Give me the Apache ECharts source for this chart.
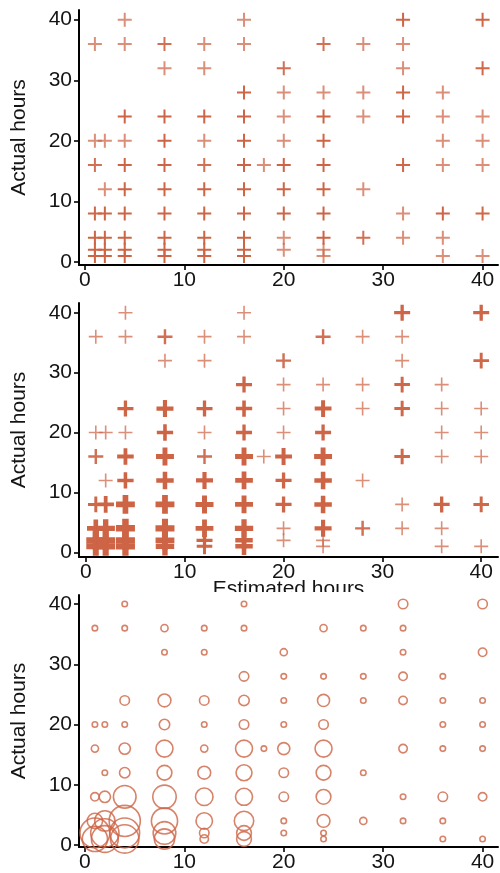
<!DOCTYPE html>
<html><head><meta charset="utf-8">
<script src="https://cdn.jsdelivr.net/npm/echarts@6/dist/echarts.min.js"></script>
<style>html,body{margin:0;padding:0;background:#fff}#c{width:500px;height:873px}</style>
</head><body><div id="c"></div>
<script>
// Estimated vs actual hours, with number of tasks at each combination
const estHours = [
  1,1,1,1,1,1,1,
  2,2,2,2,2,2,
  4,4,4,4,4,4,4,4,4,4,
  8,8,8,8,8,8,8,8,8,8,
  12,12,12,12,12,12,12,12,12,12,
  16,16,16,16,16,16,16,16,16,16,16,
  18,
  20,20,20,20,20,20,20,20,20,
  24,24,24,24,24,24,24,24,24,24,
  28,28,28,28,28,
  32,32,32,32,32,32,32,32,
  36,36,36,36,36,36,36,
  40,40,40,40,40,40,40
];
const actHours = [
  36,20,16,8,4,2,1,
  20,12,8,4,2,1,
  40,36,24,20,16,12,8,4,2,1,
  36,32,24,20,16,12,8,4,2,1,
  36,32,24,20,16,12,8,4,2,1,
  40,36,28,24,20,16,12,8,4,2,1,
  16,
  32,28,24,20,16,12,8,4,2,
  36,28,24,20,16,12,8,4,2,1,
  36,28,24,12,4,
  40,36,32,28,24,16,8,4,
  28,24,20,16,8,4,1,
  40,32,24,20,16,8,1
];
const counts = [
  1,1,2,3,12,50,35,
  1,1,6,22,45,40,
  1,1,4,1,6,5,28,55,50,45,
  2,1,8,5,15,11,30,38,28,22,
  1,1,4,1,2,8,16,14,4,3,
  1,1,4,5,4,15,13,15,20,11,11,
  1,
  2,1,1,1,7,4,4,1,1,
  2,1,7,4,15,11,11,8,1,1,
  1,1,1,1,2,
  4,1,1,3,3,3,1,1,
  1,1,1,1,4,1,1,
  4,3,1,1,1,3,1
];
const xTickValues = [0,10,20,30,40];
const yTickValues = [0,10,20,30,40];
const xTitle = 'Estimated hours';
const yTitle = 'Actual hours';

const COLOR = '#CD6445';
const FONT = '"Liberation Sans", Arial, sans-serif';
const FS = 21;
const TXT = '#141414';
const PLUS = 'path://M0,6L12,6M6,0L6,12';

const chart = echarts.init(document.getElementById('c'), null, {renderer:'canvas'});

const panels = [
  {top:10, height:255, xmin:-0.6, xmax:41.55, ymin:-0.5, ymax:41.6},
  {top:303, height:254, xmin:-0.7, xmax:41.7, ymin:-0.78, ymax:41.62},
  {top:595, height:253, xmin:-0.6, xmax:41.55, ymin:-0.33, ymax:41.5}
];

const grids = [], xAxes = [], yAxes = [];
panels.forEach((p, i) => {
  const z = i === 2 ? 5 : 0;
  grids.push({left:79, top:p.top, width:419, height:p.height, containLabel:false});
  xAxes.push({
    type:'value', gridIndex:i, min:p.xmin, max:p.xmax, z:z,
    axisLine:{show:true, onZero:false, lineStyle:{color:'#000', width:2}},
    axisTick:{show:true, length:5, customValues:xTickValues, lineStyle:{color:'#000', width:1.6}},
    axisLabel:{customValues:xTickValues, margin:5, fontSize:FS, color:TXT, fontFamily:FONT},
    splitLine:{show:false}
  });
  yAxes.push({
    type:'value', gridIndex:i, min:p.ymin, max:p.ymax, z:z,
    name:yTitle, nameLocation:'middle', nameGap:49,
    nameTextStyle:{fontSize:FS, color:TXT, fontFamily:FONT},
    axisLine:{show:true, onZero:false, lineStyle:{color:'#000', width:2}},
    axisTick:{show:true, length:5, customValues:yTickValues, lineStyle:{color:'#000', width:1.6}},
    axisLabel:{customValues:yTickValues, margin:7, fontSize:FS, color:TXT, fontFamily:FONT},
    splitLine:{show:false}
  });
});

const d1 = [], d2 = [], d3 = [];
estHours.forEach((x, i) => {
  const y = actHours[i], n = counts[i];
  d1.push({value:[x, y], itemStyle:{opacity: 1 - Math.pow(0.28, n)}});
  const lg = Math.log2(n);
  d2.push({value:[x, y], symbolSize: 14 + Math.min(lg, 5) * 1.0,
    itemStyle:{borderWidth: Math.min(1.6 + 0.85 * lg, 6.5), opacity: 1 - Math.pow(0.28, n)}});
  d3.push({value:[x, y, n], symbolSize: 1.5 + 4.0 * Math.sqrt(n)});
});

const option = {
  animation:false,
  backgroundColor:'#fff',
  grid:grids, xAxis:xAxes, yAxis:yAxes,
  series:[
    {type:'scatter', xAxisIndex:0, yAxisIndex:0, silent:true, symbol:PLUS, symbolSize:14,
     itemStyle:{color:'none', borderColor:COLOR, borderWidth:2}, data:d1},
    {type:'scatter', xAxisIndex:1, yAxisIndex:1, silent:true, symbol:PLUS,
     itemStyle:{color:'none', borderColor:COLOR, borderWidth:2}, data:d2},
    {type:'scatter', xAxisIndex:2, yAxisIndex:2, silent:true, symbol:'circle', z:5,
     itemStyle:{color:'rgba(0,0,0,0)', borderColor:COLOR, borderWidth:1.6}, data:d3}
  ],
  graphic:[
    {type:'text', z:0, x:288.5, y:589.5, silent:true,
     style:{text:xTitle, font:FS + 'px ' + FONT, fill:TXT, textAlign:'center', verticalAlign:'middle'}},
    {type:'rect', z:1, silent:true, shape:{x:0, y:592, width:500, height:281}, style:{fill:'#fff'}}
  ]
};
chart.setOption(option);
</script>
</body></html>
